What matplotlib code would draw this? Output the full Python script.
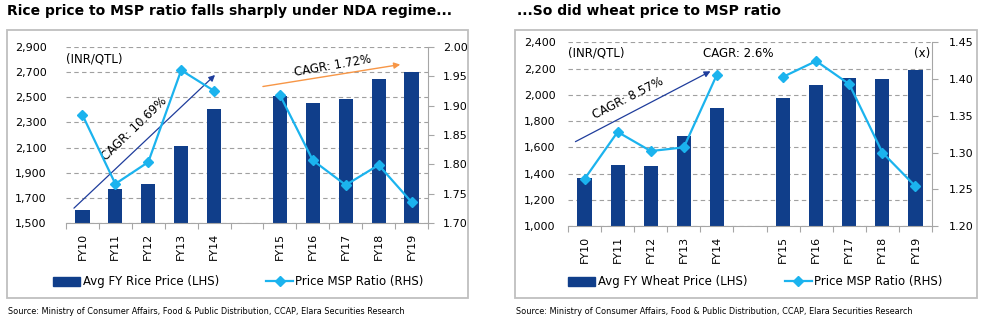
import numpy as np
import matplotlib
matplotlib.use("Agg")
import matplotlib.pyplot as plt
from matplotlib.lines import Line2D
from matplotlib.patches import Patch, Rectangle

plt.rcParams['font.family'] = ['DejaVu Sans']

# ---- data ----
categories = ['FY10', 'FY11', 'FY12', 'FY13', 'FY14', '', 'FY15', 'FY16', 'FY17', 'FY18', 'FY19']
rice_price = [1605, 1770, 1810, 2116, 2410, np.nan, 2510, 2455, 2487, 2645, 2700]
rice_ratio = [1.884, 1.767, 1.804, 1.960, 1.925, np.nan, 1.918, 1.807, 1.765, 1.799, 1.736]
wheat_price = [1366, 1465, 1460, 1684, 1902, np.nan, 1978, 2077, 2130, 2123, 2191]
wheat_ratio = [1.264, 1.328, 1.302, 1.307, 1.406, np.nan, 1.403, 1.4245, 1.393, 1.300, 1.254]

rice_left_ticks = [1500, 1700, 1900, 2100, 2300, 2500, 2700, 2900]
rice_right_ticks = [1.70, 1.75, 1.80, 1.85, 1.90, 1.95, 2.00]
wheat_left_ticks = [1000, 1200, 1400, 1600, 1800, 2000, 2200, 2400]
wheat_right_ticks = [1.20, 1.25, 1.30, 1.35, 1.40, 1.45]

BAR = '#103E8A'
LINE = '#1BB3EE'
GRAY = '#A6A6A6'
W, H = 984, 327

fig = plt.figure(figsize=(W / 100, H / 100), dpi=100)


def fx(px):
    return px / W


def fy(py):
    return 1 - py / H


def panel(rect_px, left_ticks, right_ticks, prices, ratios, lpad, rpad):
    x0, y0, x1, y1 = rect_px
    ax = fig.add_axes([fx(x0), fy(y1), fx(x1 - x0), (y1 - y0) / H])
    x = np.arange(len(categories))
    ax.bar(x, prices, width=0.43, color=BAR, zorder=2)
    ax.set_xlim(-0.5, len(categories) - 0.5)
    ax.set_ylim(left_ticks[0], left_ticks[-1])
    ax.set_yticks(left_ticks)
    ax.set_yticklabels([f'{v:,}' for v in left_ticks], fontsize=8)
    ax.tick_params(axis='y', length=0, pad=lpad)
    ax.grid(axis='y', linestyle=(0, (4, 3)), color='#A0A0A0', linewidth=0.8)
    ax.set_axisbelow(True)
    ax.set_xticks(x)
    ax.set_xticklabels(categories, rotation=90, fontsize=8)
    ax.set_xticks(np.arange(-0.5, len(categories)), minor=True)
    ax.tick_params(axis='x', which='major', length=0, pad=7)
    ax.tick_params(axis='x', which='minor', length=4, color=GRAY, width=0.8)
    for s in ['left', 'top', 'right']:
        ax.spines[s].set_visible(False)
    ax.spines['bottom'].set_color(GRAY)

    ax2 = ax.twinx()
    ax2.plot(x, ratios, color=LINE, lw=1.6, marker='D', markersize=5)
    ax2.set_ylim(right_ticks[0], right_ticks[-1])
    ax2.set_yticks(right_ticks)
    ax2.set_yticklabels([f'{v:.2f}' for v in right_ticks], fontsize=8)
    ax2.tick_params(axis='y', length=4, color=GRAY, pad=rpad)
    for s in ['left', 'top', 'bottom']:
        ax2.spines[s].set_visible(False)
    ax2.spines['right'].set_color(GRAY)
    return ax, ax2


# ---- left panel: rice ----
axL, axL2 = panel((66, 46.7, 428, 223.3), rice_left_ticks, rice_right_ticks,
                  rice_price, rice_ratio, 14, 7)
axL.text(-0.5, 2800, '(INR/QTL)', fontsize=8.5, ha='left', va='center')
axL.annotate('', xy=(4.09, 2691), xytext=(-0.32, 1605),
             arrowprops=dict(arrowstyle='-|>', color='#1F3D9C', lw=0.9, mutation_scale=9))
axL.text(1.57, 2250, 'CAGR: 10.69%', fontsize=8.5, rotation=44,
         ha='center', va='center', rotation_mode='anchor')
axL.annotate('', xy=(9.74, 2762), xytext=(5.40, 2581),
             arrowprops=dict(arrowstyle='-|>', color='#F79646', lw=1.0, mutation_scale=9))
axL.text(7.62, 2746, 'CAGR: 1.72%', fontsize=8.5, rotation=10,
         ha='center', va='center', rotation_mode='anchor')

# ---- right panel: wheat ----
axR, axR2 = panel((568, 42.3, 932, 226), wheat_left_ticks, wheat_right_ticks,
                  wheat_price, wheat_ratio, 9, 8)
axR.text(-0.5, 2318, '(INR/QTL)', fontsize=8.5, ha='left', va='center')
axR.text(4.64, 2318, 'CAGR: 2.6%', fontsize=8.5, ha='center', va='center')
axR.text(10.45, 2318, '(x)', fontsize=8.5, ha='right', va='center')
axR.annotate('', xy=(3.88, 2189), xytext=(-0.35, 1633),
             arrowprops=dict(arrowstyle='-|>', color='#1F3D9C', lw=0.9, mutation_scale=9))
axR.text(1.31, 1976, 'CAGR: 8.57%', fontsize=8.5, rotation=27,
         ha='center', va='center', rotation_mode='anchor')

# ---- legends ----
def add_legend(label, xpx, colsp):
    handles = [Patch(facecolor=BAR, edgecolor=BAR),
               Line2D([0], [0], color=LINE, lw=1.6, marker='D', markersize=5)]
    fig.legend(handles, [label, 'Price MSP Ratio (RHS)'], loc='center left',
               bbox_to_anchor=(fx(xpx), fy(282)), ncol=2, frameon=False,
               fontsize=8.5, handlelength=2.3, handletextpad=0.2,
               columnspacing=colsp, borderpad=0, borderaxespad=0)


add_legend('Avg FY Rice Price (LHS)', 53, 4.0)
add_legend('Avg FY Wheat Price (LHS)', 568, 3.2)

# ---- frames ----
for (a, b, c, d) in [(7, 30, 468, 298), (515, 30, 977, 298)]:
    fig.add_artist(Rectangle((fx(a), fy(d)), fx(c - a), (d - b) / H,
                             transform=fig.transFigure, fill=False,
                             edgecolor='#BFBFBF', lw=1.3))

# ---- titles & sources ----
fig.text(fx(7), fy(11), 'Rice price to MSP ratio falls sharply under NDA regime...',
         fontsize=10, fontweight='bold', ha='left', va='center')
fig.text(fx(517), fy(11), '...So did wheat price to MSP ratio',
         fontsize=10, fontweight='bold', ha='left', va='center')
src = 'Source: Ministry of Consumer Affairs, Food & Public Distribution, CCAP, Elara Securities Research'
fig.text(fx(8), fy(311), src, fontsize=5.9, ha='left', va='center')
fig.text(fx(516), fy(311), src, fontsize=5.9, ha='left', va='center')

fig.savefig('out.png', dpi=100)
